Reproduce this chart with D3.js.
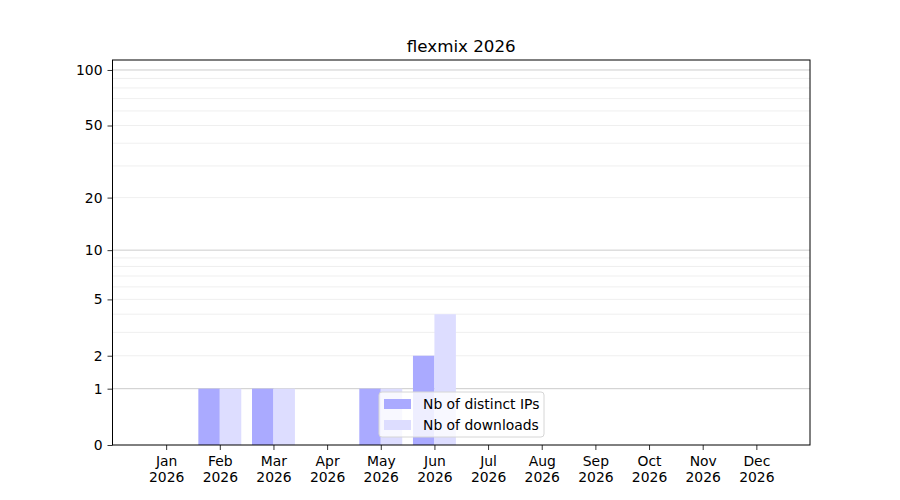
<!DOCTYPE html>
<html>
<head>
<meta charset="utf-8">
<script src="https://cdn.jsdelivr.net/npm/d3@7"></script>
<style>
  body { margin: 0; background: #fff; }
  text { font-family: "DejaVu Sans", sans-serif; fill: #000; }
</style>
</head>
<body>
<script>
// chart data
const title = "flexmix 2026";
const months = ["Jan", "Feb", "Mar", "Apr", "May", "Jun", "Jul", "Aug", "Sep", "Oct", "Nov", "Dec"];
const year = "2026";
const distinctIPs = [0, 1, 1, 0, 1, 2, 0, 0, 0, 0, 0, 0];
const downloads = [0, 1, 1, 0, 1, 4, 0, 0, 0, 0, 0, 0];
const yTickValues = [0, 1, 2, 5, 10, 20, 50, 100];
const majorGrid = [1, 10, 100];
const minorGrid = [2, 3, 4, 5, 6, 7, 8, 9, 20, 30, 40, 50, 60, 70, 80, 90];
const seriesNames = ["Nb of distinct IPs", "Nb of downloads"];
const seriesColors = ["#aaaaff", "#ddddff"];

window.onload = drawChart();

function drawChart() {
    let width = 900,
        height = 500;
    let left = 112.5, right = 810, top = 60, bottom = 445;

    let svg = d3.select("body")
        .append("svg")
        .attr("width", width)
        .attr("height", height);

    //x in month units, one empty slot either side
    let x = d3.scaleLinear()
        .domain([-1, 12])
        .range([left, right]);

    //log(1 + v) scale so that zero fits
    let ylog = d3.scaleLog()
        .domain([1, 114.2])
        .range([bottom, top]);
    let y = v => ylog(v + 1);

    //grid lines
    svg.append("g").selectAll("line")
        .data(minorGrid)
        .enter().append("line")
        .attr("x1", left).attr("x2", right)
        .attr("y1", d => y(d)).attr("y2", d => y(d))
        .attr("stroke", "#ebebeb")
        .attr("stroke-width", 0.8);
    svg.append("g").selectAll("line")
        .data(majorGrid)
        .enter().append("line")
        .attr("x1", left).attr("x2", right)
        .attr("y1", d => y(d)).attr("y2", d => y(d))
        .attr("stroke", "#cccccc")
        .attr("stroke-width", 1);

    let barW = x(0.4) - x(0);
    let series = [distinctIPs, downloads];
    series.forEach(function (vals, s) {
        svg.append("g").selectAll("rect")
            .data(vals.map((v, i) => ({ i: i, v: v })).filter(d => d.v > 0))
            .enter().append("rect")
            .attr("x", d => x(d.i) - barW + s * barW)
            .attr("width", barW)
            .attr("y", d => y(d.v))
            .attr("height", d => y(0) - y(d.v))
            .attr("fill", seriesColors[s]);
    });

    //axes
    let xAxis = svg.append("g")
        .attr("transform", "translate(0," + bottom + ")")
        .call(d3.axisBottom(x)
            .tickValues(d3.range(12))
            .tickSize(5)
            .tickFormat(""));
    xAxis.select(".domain").remove();
    xAxis.selectAll(".tick line").attr("stroke", "#000").attr("stroke-width", 0.8);
    xAxis.selectAll(".tick").append("text")
        .attr("text-anchor", "middle")
        .style("font-size", "13.9px")
        .each(function (d) {
            let t = d3.select(this);
            t.append("tspan").attr("x", 0).attr("y", 21).text(months[d]);
            t.append("tspan").attr("x", 0).attr("y", 37).text(year);
        });

    let yAxis = svg.append("g")
        .attr("transform", "translate(" + left + ",0)")
        .call(d3.axisLeft(ylog)
            .tickValues(yTickValues.map(v => v + 1))
            .tickSize(5)
            .tickPadding(5)
            .tickFormat(d => String(Math.round(d - 1))));
    yAxis.select(".domain").remove();
    yAxis.selectAll(".tick line").attr("stroke", "#000").attr("stroke-width", 0.8);
    yAxis.selectAll(".tick text")
        .style("font-size", "13.9px")
        .style("font-family", "DejaVu Sans, sans-serif")
        .attr("fill", "#000");

    //frame
    svg.append("rect")
        .attr("x", left).attr("y", top)
        .attr("width", right - left).attr("height", bottom - top)
        .attr("fill", "none")
        .attr("stroke", "#000")
        .attr("stroke-width", 1);

    svg.append("text")
        .attr("x", (left + right) / 2)
        .attr("y", 52)
        .attr("text-anchor", "middle")
        .style("font-size", "16.7px")
        .text(title);

    //legend, lower center
    let lg = svg.append("g").attr("transform", "translate(379,392)");
    lg.append("rect")
        .attr("width", 165).attr("height", 45)
        .attr("rx", 3)
        .attr("fill", "#fff").attr("fill-opacity", 0.8)
        .attr("stroke", "#d6d6d6");
    seriesNames.forEach(function (name, i) {
        lg.append("rect")
            .attr("x", 5).attr("y", 7 + i * 21)
            .attr("width", 27).attr("height", 10)
            .attr("fill", seriesColors[i]);
        lg.append("text")
            .attr("x", 44).attr("y", 17 + i * 21)
            .style("font-size", "13.9px")
            .text(name);
    });
}
</script>
</body>
</html>
